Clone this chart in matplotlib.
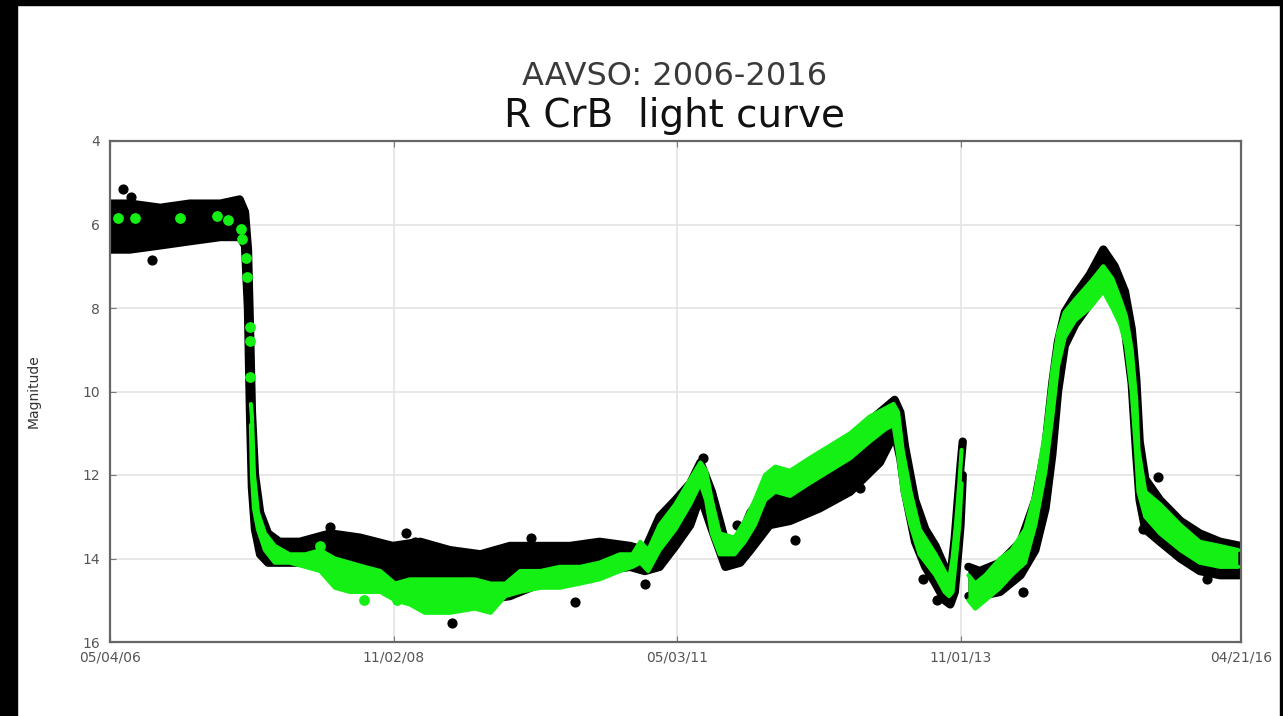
import numpy as np
import matplotlib
matplotlib.use('Agg')
import matplotlib.pyplot as plt
import matplotlib.dates as mdates
from matplotlib.patches import Rectangle
from datetime import datetime, timedelta

plt.rcParams['font.family'] = ['DejaVu Sans']

nan = np.nan

# black points: dense band (decimal year, bright edge, faint edge)
black_year = [2006.34, 2006.51, 2006.78, 2007.04, 2007.31, 2007.48, 2007.527, 2007.553, 2007.571,
              2007.588, 2007.615, 2007.66, 2007.73, 2007.83, 2008.01, 2008.28, 2008.54, 2008.83,
              2009.07, 2009.33, 2009.60, 2009.86, 2010.13, 2010.39, 2010.65, 2010.92, 2011.05,
              2011.18, 2011.32, 2011.45, 2011.54, 2011.64, 2011.76, 2011.89, 2011.98, 2012.15,
              2012.33, 2012.59, 2012.86, 2013.12, 2013.25, 2013.30, 2013.34, 2013.43, 2013.52,
              2013.61, 2013.69, 2013.74, 2013.78, 2013.83, 2013.85, 2013.88, 2013.90, 2014.00,
              2014.18, 2014.36, 2014.49, 2014.58, 2014.64, 2014.69, 2014.75, 2014.84, 2014.97,
              2015.09, 2015.19, 2015.28, 2015.34, 2015.38, 2015.41, 2015.46, 2015.59, 2015.77,
              2015.94, 2016.12, 2016.30]
black_lo = [5.5, 5.5, 5.6, 5.5, 5.5, 5.4, 5.7, 6.6, 8.5,
            10.5, 12.0, 12.9, 13.4, 13.6, 13.6, 13.4, 13.5, 13.7,
            13.6, 13.8, 13.9, 13.7, 13.7, 13.7, 13.6, 13.7, 13.8,
            13.0, 12.6, 12.2, 11.7, 12.4, 13.6, 13.5, 12.9, 12.3,
            12.0, 11.6, 11.1, 10.5, 10.2, 10.5, 11.3, 12.6, 13.3,
            13.7, 14.2, 14.5, 13.5, 11.8, 11.2, nan, 14.2, 14.3,
            14.1, 13.6, 12.6, 11.3, 9.8, 8.8, 8.1, 7.7, 7.2,
            6.6, 7.0, 7.6, 8.5, 9.7, 11.2, 12.1, 12.6, 13.1,
            13.4, 13.6, 13.7]
black_hi = [6.6, 6.6, 6.5, 6.4, 6.3, 6.3, 6.5, 8.0, 10.5,
            12.3, 13.3, 13.9, 14.1, 14.1, 14.1, 14.1, 14.3, 14.5,
            14.6, 14.9, 15.0, 14.9, 14.6, 14.5, 14.3, 14.2, 14.3,
            14.2, 13.7, 13.2, 12.5, 13.3, 14.2, 14.1, 13.8, 13.2,
            13.1, 12.8, 12.4, 11.7, 11.0, 11.6, 12.4, 13.6, 14.2,
            14.6, 15.0, 15.1, 14.8, 13.2, 12.0, nan, 14.9, 14.9,
            14.8, 14.4, 13.8, 12.8, 11.5, 10.0, 8.9, 8.4, 7.9,
            7.4, 7.9, 8.5, 9.8, 11.5, 12.6, 13.3, 13.6, 14.0,
            14.3, 14.4, 14.4]

# isolated black observations
black_out_year = [2006.45, 2006.52, 2006.71, 2009.02, 2009.35, 2009.69, 2009.93, 2010.43, 2010.72,
                  2011.05, 2011.56, 2011.86, 2012.37, 2012.95, 2013.50, 2013.62, 2014.38, 2015.44,
                  2015.57, 2016.00, 2008.28, 2008.95, 2010.05]
black_out_mag = [5.15, 5.35, 6.85, 13.6, 15.55, 14.1, 14.3, 15.05, 13.9,
                 14.6, 11.6, 13.2, 13.55, 12.3, 14.5, 15.0, 14.8, 13.3,
                 12.05, 14.5, 13.25, 13.4, 13.5]

# green points: band
green_year = [2007.579, 2007.588, 2007.606, 2007.641, 2007.703, 2007.79, 2007.92, 2008.06, 2008.19,
              2008.32, 2008.45, 2008.58, 2008.72, 2008.85, 2008.98, 2009.11, 2009.33, 2009.55,
              2009.69, 2009.82, 2009.95, 2010.13, 2010.30, 2010.48, 2010.65, 2010.83, 2010.94,
              2011.01, 2011.08, 2011.18, 2011.32, 2011.45, 2011.54, 2011.59, 2011.64, 2011.71,
              2011.84, 2011.93, 2012.02, 2012.11, 2012.20, 2012.33, 2012.50, 2012.68, 2012.86,
              2013.03, 2013.17, 2013.24, 2013.28, 2013.32, 2013.39, 2013.47, 2013.61, 2013.69,
              2013.73, 2013.76, 2013.79, 2013.82, 2013.84, 2013.87, 2013.90, 2013.96, 2014.05,
              2014.18, 2014.28, 2014.40, 2014.49, 2014.58, 2014.64, 2014.69, 2014.75, 2014.84,
              2014.97, 2015.09, 2015.17, 2015.24, 2015.29, 2015.34, 2015.38, 2015.40, 2015.46,
              2015.59, 2015.77, 2015.94, 2016.12, 2016.28]
green_lo = [10.3, 10.6, 12.0, 12.9, 13.4, 13.7, 13.9, 13.9, 13.8,
            14.0, 14.1, 14.2, 14.3, 14.6, 14.5, 14.5, 14.5, 14.5,
            14.6, 14.6, 14.3, 14.3, 14.2, 14.2, 14.1, 13.9, 13.9,
            13.6, 13.8, 13.2, 12.7, 12.1, 11.7, 11.9, 12.6, 13.4,
            13.5, 13.1, 12.6, 12.0, 11.8, 11.9, 11.6, 11.3, 11.0,
            10.6, 10.4, 10.3, 10.5, 11.4, 12.4, 13.3, 13.9, 14.3,
            14.5, 14.0, 13.2, 12.2, 11.4, nan, 14.4, 14.6, 14.4,
            14.0, 13.8, 13.3, 12.4, 10.9, 9.5, 8.6, 8.1, 7.8,
            7.4, 7.0, 7.3, 7.8, 8.2, 9.0, 10.2, 11.4, 12.4,
            12.7, 13.2, 13.6, 13.7, 13.8]
green_hi = [10.8, 12.0, 12.8, 13.3, 13.8, 14.1, 14.1, 14.2, 14.3,
            14.7, 14.8, 14.8, 14.8, 15.0, 15.1, 15.3, 15.3, 15.2,
            15.3, 14.9, 14.8, 14.7, 14.7, 14.6, 14.5, 14.3, 14.2,
            14.1, 14.3, 13.8, 13.3, 12.7, 12.2, 12.6, 13.4, 13.9,
            13.9, 13.6, 13.2, 12.6, 12.4, 12.5, 12.2, 11.9, 11.6,
            11.2, 10.9, 10.8, 11.5, 12.4, 13.2, 13.9, 14.4, 14.8,
            14.9, 14.8, 14.0, 13.2, 12.2, nan, 15.0, 15.2, 15.0,
            14.7, 14.4, 14.1, 13.2, 11.9, 10.6, 9.4, 8.7, 8.3,
            8.0, 7.6, 8.0, 8.4, 8.9, 10.0, 11.5, 12.4, 13.0,
            13.4, 13.8, 14.1, 14.2, 14.2]

# isolated green observations
green_dot_year = [2006.41, 2006.56, 2006.95, 2007.28, 2007.38, 2007.491, 2007.50, 2007.535,
                  2007.544, 2007.567, 2007.571, 2007.575, 2008.19, 2008.58, 2008.87]
green_dot_mag = [5.85, 5.85, 5.85, 5.8, 5.9, 6.1, 6.35, 6.8,
                 7.25, 8.45, 8.8, 9.65, 13.7, 15.0, 15.0]

tick_dates = ['2006-05-04', '2008-11-02', '2011-05-03', '2013-11-01', '2016-04-21']
y_ticks = [4, 6, 8, 10, 12, 14, 16]


def to_date(years):
    out = []
    for y in years:
        yi = int(y)
        out.append(datetime(yi, 1, 1) + timedelta(days=(y - yi) * 365.25))
    return out


fig = plt.figure(figsize=(12.83, 7.16), dpi=100)
ax = fig.add_axes([110 / 1283, 1 - 642 / 716, 1131 / 1283, 501 / 716])

bx = to_date(black_year)
ax.fill_between(bx, black_lo, black_hi, color='black', lw=0, zorder=2)
ax.plot(bx, black_lo, color='black', lw=6, solid_capstyle='round', zorder=2)
ax.plot(bx, black_hi, color='black', lw=6, solid_capstyle='round', zorder=2)
ax.scatter(to_date(black_out_year), black_out_mag, s=40, color='black', zorder=2)

gx = to_date(green_year)
green = '#14f014'
ax.fill_between(gx, green_lo, green_hi, color=green, lw=0, zorder=3)
ax.plot(gx, green_lo, color=green, lw=3, solid_capstyle='round', zorder=3)
ax.plot(gx, green_hi, color=green, lw=3, solid_capstyle='round', zorder=3)
ax.scatter(to_date(green_dot_year), green_dot_mag, s=45, color=green, zorder=4)

ax.set_xlim(datetime(2006, 5, 4), datetime(2016, 4, 21))
ax.set_ylim(16, 4)
ax.set_yticks(y_ticks)
ax.set_xticks([datetime.strptime(d, '%Y-%m-%d') for d in tick_dates])
ax.xaxis.set_major_formatter(mdates.DateFormatter('%m/%d/%y'))

ax.grid(True, color='#e4e4e4', lw=1.2, zorder=0)
ax.set_axisbelow(True)
for s in ax.spines.values():
    s.set_color('#666666')
    s.set_linewidth(1.6)
ax.tick_params(direction='in', length=4, color='#777777', top=True, right=True,
               labelsize=10, labelcolor='#555555')
ax.tick_params(axis='y', pad=7)
ax.tick_params(axis='x', pad=6)

ax.set_ylabel('Magnitude', fontsize=10, color='#333333', labelpad=30)

fig.text(675 / 1283, 1 - 85 / 716, 'AAVSO: 2006-2016', ha='center', va='baseline',
         fontsize=23, color='#3a3a3a')
fig.text(675 / 1283, 1 - 127 / 716, 'R CrB  light curve', ha='center', va='baseline',
         fontsize=28, color='#111111')

# black frame strips of the screenshot
fig.add_artist(Rectangle((0, 0), 17 / 1283, 1, transform=fig.transFigure, color='black', zorder=10))
fig.add_artist(Rectangle((0, 1 - 5 / 716), 1, 5 / 716, transform=fig.transFigure, color='black', zorder=10))
fig.add_artist(Rectangle((1280 / 1283, 0), 3 / 1283, 1, transform=fig.transFigure, color='black', zorder=10))

fig.savefig('out.png', dpi=100)
